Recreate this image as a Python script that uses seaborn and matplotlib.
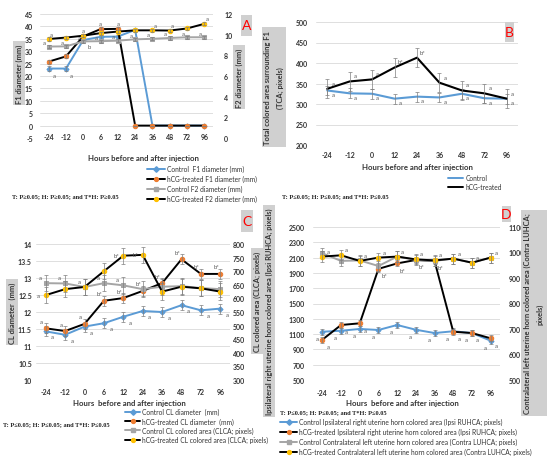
import numpy as np
import seaborn as sns
import matplotlib.pyplot as plt
from matplotlib.lines import Line2D
from matplotlib.patches import Rectangle

sns.set_theme(style="white")
plt.rcParams['font.family'] = ['Lato', 'DejaVu Sans']

BLUE = '#5b9bd5'
ORANGE = '#ed7d31'
YELLOW = '#ffc000'
GRAY = '#a5a5a5'
GRID = '#d9d9d9'
BOX = '#d0d0d0'
TXT = '#333333'
W, H = 550, 464

# ---- data ----
hours = ['-24', '-12', '0', '6', '12', '24', '36', '48', '72', '96']
hours_b = ['-24', '-12', '0', '12', '24', '36', '48', '72', '96']

# A: follicle diameters
f1_control = [23.0, 23.0, 34.5, 35.8, 35.9, 38.6, 0, 0, 0, 0]
f1_hcg = [25.8, 27.9, 36.0, 38.9, 39.0, 0, 0, 0, 0, 0]
f2_control = [8.85, 8.87, 9.35, 9.37, 9.42, 9.55, 9.6, 9.68, 9.75, 9.75]
f2_hcg = [9.58, 9.72, 9.9, 10.15, 10.3, 10.42, 10.42, 10.4, 10.6, 11.05]
f1_control_err = [1.0, 1.0, 1.0, 0.8, 0.8, 0.8, 0, 0, 0, 0]
f1_hcg_err = [0.8, 0.8, 0.8, 0.8, 0.8, 0, 0, 0, 0, 0]
f2_err = [0.15] * 10

# B: total colored area surrounding F1
tca_control = [333, 326, 325, 313, 318, 316, 325, 314, 313]
tca_hcg = [337, 355, 360, 389, 413, 352, 333, 326, 313]
tca_control_err = [12, 12, 12, 12, 12, 12, 12, 12, 12]
tca_hcg_err = [23, 23, 23, 23, 23, 23, 23, 23, 23]

# C: corpus luteum
cl_control = [11.43, 11.33, 11.57, 11.67, 11.86, 12.03, 12.0, 12.2, 12.05, 12.1]
cl_hcg = [11.52, 11.44, 11.65, 12.33, 12.41, 12.62, 12.85, 13.55, 13.12, 13.12]
clca_control = [656, 655, 642, 656, 648, 634, 643, 645, 638, 634]
clca_hcg = [612, 634, 642, 700, 757, 760, 625, 643, 637, 625]
cl_err = [0.15] * 10
clca_err = [30] * 10

# D: uterine horn colored areas
ruhca_control = [1131, 1144, 1167, 1154, 1219, 1157, 1114, 1137, 1114, 1014]
ruhca_hcg = [1027, 1219, 1241, 1953, 2024, 2069, 2055, 1131, 1114, 1045]
luhca_control = [997, 967, 969, 947, 984, 971, 967, 976, 960, 980]
luhca_hcg = [984, 989, 967, 980, 984, 973, 969, 976, 960, 980]
ruhca_err = [40] * 10
luhca_err = [20] * 10

# significance letters
let_f1_control = ['a', 'a', 'b', '', '', '', '', '', '', '']
let_f1_hcg = ['', '', 'a', 'a', 'a', '', '', '', '', '']
let_f2_control = ['a', 'a', 'a', 'a', 'a', 'a', 'a', 'a', 'a', 'a']
let_f2_hcg = ['a', '', '', '', '', '', 'a', 'a', '', 'a']
let_tca_control = ['a'] * 9
let_tca_hcg = ['a', 'a', 'a', 'b*', 'b*', 'a', 'a', 'a', 'a']
let_cl_control = ['a'] * 10
let_cl_hcg = ['a', 'a', 'a', 'b*', 'b*', 'b*', 'b*', 'b*', 'b*', 'b*']
let_clca_control = ['a', 'a', 'a', 'a', 'a', '', '', '', '', '']
let_clca_hcg = ['a', '', '', '', 'b*', 'b*', '', '', '', '']
let_ruhca_control = ['a'] * 10
let_ruhca_hcg = ['a', 'a', 'a', 'b*', 'b*', 'b*', 'b*', 'a', 'a', 'a']
let_luhca = ['a'] * 10

stat_ns = 'T: P\u22650.05; H: P\u22650.05; and T*H: P\u22650.05'
stat_s = 'T: P\u22640.05; H: P\u22640.05; and T*H: P\u22640.05'


def frac(l, t, r, b):
    return [l / W, 1 - b / H, (r - l) / W, (b - t) / H]


def series(ax, vals, err, color, mface, marker, ms=3.2, lw=1.4):
    xs = np.arange(len(vals))
    sns.lineplot(x=xs, y=vals, ax=ax, color=color, marker=marker, markersize=ms,
                 markerfacecolor=mface, markeredgecolor=mface, linewidth=lw,
                 legend=False)
    ax.errorbar(xs, vals, yerr=err, fmt='none', ecolor='#7f7f7f', elinewidth=0.5,
                capsize=1.4, capthick=0.5)


def letters(ax, vals, labs, dx, dy):
    for x, v, t in zip(range(len(vals)), vals, labs):
        if t:
            ax.annotate(t, (x, v), xytext=(dx, dy), textcoords='offset points',
                        fontsize=4.3, color='#595959', ha='center', va='center')


def style(ax, ticks, labels, ypad, xlabels, xpad, grid=True):
    ax.set_yticks(ticks, labels=labels, fontsize=5, fontweight='bold', color=TXT)
    ax.set_xticks(range(len(xlabels)), labels=xlabels, fontsize=5, fontweight='bold', color=TXT)
    ax.set_xlim(-0.5, len(xlabels) - 0.5)
    ax.set_ylim(ticks[0], ticks[-1])
    ax.tick_params(axis='y', length=0, pad=ypad)
    ax.tick_params(axis='x', length=0, pad=xpad)
    for s in ax.spines.values():
        s.set_visible(False)
    if grid:
        ax.yaxis.grid(True, color=GRID, linewidth=0.6)
        ax.set_axisbelow(True)
    ax.patch.set_alpha(0)


def xlab(ax, text, x, y):
    ax.set_xlabel(text, fontsize=5.6, fontweight='bold', color=TXT)
    ax.xaxis.set_label_coords(x, y)


def ylab(fig, x, y, text, ls=1.2):
    fig.text(x / W, 1 - y / H, text, rotation=90, ha='center', va='center',
             fontsize=5.4, fontweight='bold', color=TXT, linespacing=ls,
             multialignment='center',
             bbox=dict(boxstyle='square,pad=0.35', fc=BOX, ec='none'))


def tag(fig, letter, x, y, bw, bh):
    fig.add_artist(Rectangle(((x - bw / 2) / W, 1 - (y + bh / 2) / H), bw / W, bh / H,
                             transform=fig.transFigure, fc=BOX, ec='none'))
    fig.text(x / W, 1 - y / H, letter, color='red', fontsize=10, ha='center', va='center')


def legend(fig, entries, x, y, hl, ls):
    handles = [Line2D([0], [0], color=lc, marker=mk, markersize=2.8, markerfacecolor=mc,
                      markeredgecolor=mc, linewidth=1.4) for _, lc, mc, mk in entries]
    fig.legend(handles, [e[0] for e in entries], loc='upper left',
               bbox_to_anchor=(x / W, 1 - y / H), frameon=False, fontsize=4.8,
               handlelength=hl, handletextpad=0.3, labelspacing=ls,
               borderpad=0, borderaxespad=0, labelcolor=TXT)


def stat(fig, x, y, text):
    fig.text(x / W, 1 - y / H, text, family='Liberation Serif', fontweight='bold',
             fontsize=4.6, va='center', color='#222222')


fig = plt.figure(figsize=(5.5, 4.64), dpi=100)

# ---- panel A ----
axA = fig.add_axes(frac(40, 15, 213, 139))
axA2 = axA.twinx()
series(axA, f1_control, f1_control_err, BLUE, BLUE, 'D', ms=2.6)
series(axA, f1_hcg, f1_hcg_err, 'black', ORANGE, 'o')
series(axA2, f2_control, f2_err, GRAY, GRAY, 's', ms=2.6)
series(axA2, f2_hcg, f2_err, 'black', YELLOW, 'o')
letters(axA, f1_control, let_f1_control, 4, -5)
letters(axA, f1_hcg, let_f1_hcg, 0, 4)
letters(axA2, f2_control, let_f2_control, -3, 3)
letters(axA2, f2_hcg, let_f2_hcg, 2, 3.5)
style(axA, list(range(-5, 50, 5)), [str(v) for v in range(-5, 50, 5)], 5, hours, -3.5)
style(axA2, list(range(0, 14, 2)), [str(v) for v in range(0, 14, 2)], 8, hours, -3.5, grid=False)
xlab(axA, 'Hours before and after injection', 0.60, -0.13)
ylab(fig, 19, 74, 'F1 diameter (mm)')
ylab(fig, 239, 78, 'F2 diameter (mm)')
tag(fig, 'A', 246.5, 26.5, 11, 21)
legend(fig, [('Control  F1 diameter (mm)', BLUE, BLUE, 'D'),
             ('hCG-treated F1 diameter (mm)', 'black', ORANGE, 'o'),
             ('Control F2 diameter (mm)', GRAY, GRAY, 's'),
             ('hCG-treated F2 diameter (mm)', 'black', YELLOW, 'o')],
       147, 166, 2.7, 0.42)
stat(fig, 12, 197, stat_ns)

# ---- panel B ----
axB = fig.add_axes(frac(316, 23, 518, 146))
series(axB, tca_control, tca_control_err, BLUE, BLUE, None, lw=1.5)
series(axB, tca_hcg, tca_hcg_err, 'black', 'black', None, lw=1.5)
letters(axB, tca_control, let_tca_control, 4, -3)
letters(axB, tca_hcg, let_tca_hcg, 4, 4)
style(axB, list(range(200, 550, 50)), [str(v) for v in range(200, 550, 50)], 6, hours_b, 4.3)
xlab(axB, 'Hours before and after injection', 0.5, -0.15)
ylab(fig, 274, 88, 'Total colored area surrounding F1\n(TCA; pixels)', ls=1.9)
tag(fig, 'B', 509, 33, 9, 20)
legend(fig, [('Control', BLUE, BLUE, None), ('hCG-treated', 'black', 'black', None)],
       448, 175, 2.3, 0.35)
stat(fig, 282, 197, stat_s)

# ---- panel C ----
axC = fig.add_axes(frac(36, 245, 230, 381))
axC2 = axC.twinx()
series(axC, cl_control, cl_err, BLUE, BLUE, 'D', ms=2.6)
series(axC, cl_hcg, cl_err, 'black', ORANGE, 'o')
series(axC2, clca_control, clca_err, GRAY, GRAY, 's', ms=2.6)
series(axC2, clca_hcg, clca_err, 'black', YELLOW, 'o')
letters(axC, cl_control, let_cl_control, 5, -4)
letters(axC, cl_hcg, let_cl_hcg, -3, 5)
letters(axC2, clca_control, let_clca_control, -4, 4)
letters(axC2, clca_hcg, let_clca_hcg, -5, 0)
cl_ticks = list(np.arange(10, 14.01, 0.5))
style(axC, cl_ticks, ['%g' % v for v in cl_ticks], 3, hours, 5.8)
style(axC2, list(range(300, 850, 50)), [str(v) for v in range(300, 850, 50)], 2, hours, 5.8, grid=False)
xlab(axC, 'Hours  before and after injection', 0.48, -0.143)
ylab(fig, 12, 313, 'CL diameter  (mm)')
ylab(fig, 257, 302, 'CL colored area (CLCA; pixels)')
tag(fig, 'C', 247, 222, 12, 22)
legend(fig, [('Control CL diameter  (mm)', BLUE, BLUE, 'D'),
             ('hCG-treated CL diameter  (mm)', 'black', ORANGE, 'o'),
             ('Control CL colored area (CLCA; pixels)', GRAY, GRAY, 's'),
             ('hCG-treated CL colored area (CLCA; pixels)', 'black', YELLOW, 'o')],
       125, 409, 2.3, 0.32)
stat(fig, 3, 425, stat_s)

# ---- panel D ----
axD = fig.add_axes(frac(313, 228, 500, 381))
axD2 = axD.twinx()
series(axD, ruhca_control, ruhca_err, BLUE, BLUE, 'D', ms=2.6)
series(axD, ruhca_hcg, ruhca_err, 'black', ORANGE, 'o')
series(axD2, luhca_control, luhca_err, GRAY, GRAY, 's', ms=2.6)
series(axD2, luhca_hcg, luhca_err, 'black', YELLOW, 'o')
letters(axD, ruhca_control, let_ruhca_control, -4, -5)
letters(axD, ruhca_hcg, let_ruhca_hcg, 4, -5)
letters(axD2, luhca_hcg, let_luhca, 4, 4)
style(axD, list(range(500, 2600, 200)), [str(v) for v in range(500, 2600, 200)], 6, hours, 6.5)
style(axD2, list(range(500, 1200, 100)), [str(v) for v in range(500, 1200, 100)], 6, hours, 6.5, grid=False)
xlab(axD, 'Hours  before and after injection', 0.476, -0.127)
ylab(fig, 269, 312, 'Ipsilateral right uterine horn colored area (Ipsi RUHCA; pixels)')
ylab(fig, 534, 314, 'Contralateral left uterine horn colored area (Contra LUHCA;\npixels)', ls=1.9)
tag(fig, 'D', 506, 215, 9, 16)
legend(fig, [('Control Ipsilateral right uterine horn colored area (Ipsi RUHCA; pixels)', BLUE, BLUE, 'D'),
             ('hCG-treated Ipsilateral right uterine horn colored area (Ipsi RUHCA; pixels)', 'black', ORANGE, 'o'),
             ('Control Contralateral left uterine horn colored area (Contra LUHCA; pixels)', GRAY, GRAY, 's'),
             ('hCG-treated Contralateral left uterine horn colored area (Contra LUHCA; pixels)', 'black', YELLOW, 'o')],
       280, 419, 2.6, 0.42)
stat(fig, 280, 413, stat_s)

fig.savefig('out.png', dpi=100)
